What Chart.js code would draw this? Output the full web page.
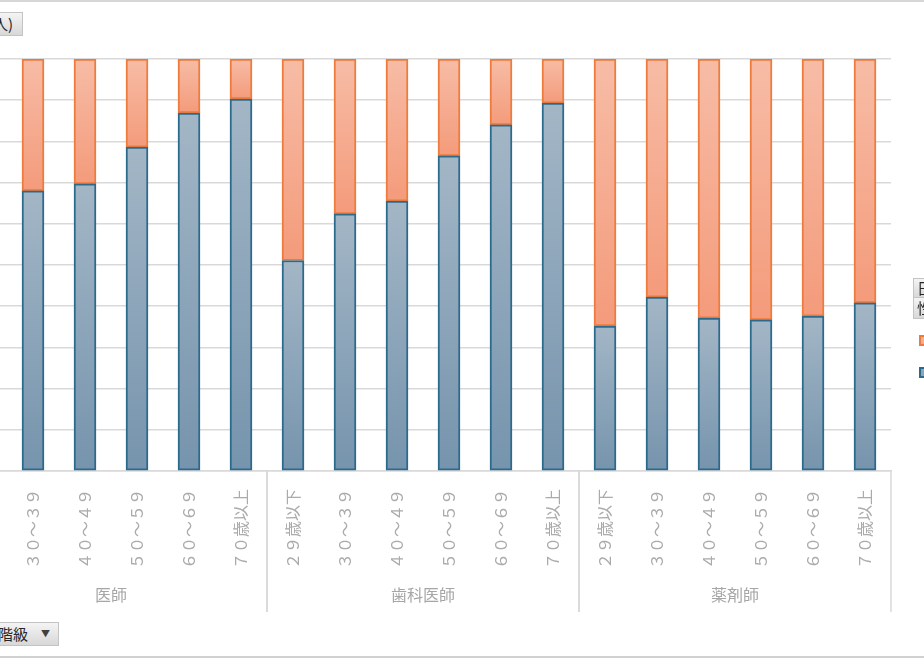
<!DOCTYPE html>
<html lang="ja">
<head>
<meta charset="utf-8">
<title>職種・年齢階級別 男女構成比</title>
<script src="https://cdn.jsdelivr.net/npm/chart.js@4.4.1/dist/chart.umd.min.js"></script>
<style>
  html, body { margin: 0; padding: 0; background: #fff; }
  body { width: 924px; height: 660px; overflow: hidden; position: relative;
         font-family: "Noto Sans CJK JP", "Noto Sans", sans-serif; }
  #wrap { position: absolute; left: -45px; top: 0; width: 969px; height: 660px; }
  .frame-top { position: absolute; left: 0; top: 0; width: 924px; height: 2px; background: #d6d6d6; }
  .frame-bottom { position: absolute; left: 0; top: 656px; width: 924px; height: 2px; background: #d0d0d0; }
  .fbtn { position: absolute; box-sizing: border-box; height: 24px; border: 1px solid #c4c4c4;
          background: linear-gradient(#f4f4f4, #d8d8d8); color: #262626; font-size: 15px;
          line-height: 22px; white-space: nowrap; text-align: right; }
  .legend-item { position: absolute; left: 919px; width: 40px; height: 10px; }
  .legend-item span { display: inline-block; width: 7px; height: 7px; border: 2px solid; vertical-align: top; }
</style>
</head>
<body>
<div class="frame-top"></div>
<div id="wrap"><canvas id="chart"></canvas></div>

<!-- ピボットのフィールドボタン（左右は画面外に切れている） -->
<div class="fbtn" style="left:-70px; top:12px; width:93px; padding-right:9px;">人数(人)</div>
<div class="fbtn" style="left:-70px; top:622px; width:129px; padding-right:30px;">年齢階級
  <span style="position:absolute; right:8px; top:0; font-size:9px; color:#404040;">▼</span></div>
<div class="fbtn" style="left:913px; top:278px; width:60px; text-align:left; padding-left:3px; height:20px; line-height:18px;">日</div>
<div class="fbtn" style="left:913px; top:297px; width:60px; text-align:left; padding-left:3px; height:22px; line-height:20px;">性別</div>
<div class="legend-item" id="lgF" style="top:335px;"><span></span></div>
<div class="legend-item" id="lgM" style="top:367px;"><span></span></div>
<div class="frame-bottom"></div>

<script>
// ── データ（構成比 %） ──
const groups   = ['医師', '歯科医師', '薬剤師'];
const ageBands = ['２９歳以下', '３０～３９', '４０～４９', '５０～５９', '６０～６９', '７０歳以上'];
const labels   = groups.flatMap(() => ageBands);

// 医師の29歳以下は画面外（左に切れている）
const maleShare   = [null, 68.0, 69.7, 78.6, 86.9, 90.3,
                     51.1, 62.4, 65.5, 76.5, 84.0, 89.3,
                     35.2, 42.2, 37.1, 36.7, 37.6, 40.8];
const femaleShare = [null, 32.0, 30.3, 21.4, 13.1,  9.7,
                     48.9, 37.6, 34.5, 23.5, 16.0, 10.7,
                     64.8, 57.8, 62.9, 63.3, 62.4, 59.2];

const yTicks = [0, 10, 20, 30, 40, 50, 60, 70, 80, 90, 100];

const BLUE_LINE = '#2c6a8c', ORANGE_LINE = '#ee7b3c';

document.querySelector('#lgF span').style.cssText += `background:#f5ad92;border-color:${ORANGE_LINE}`;
document.querySelector('#lgM span').style.cssText += `background:#8ca4b8;border-color:${BLUE_LINE}`;

/* ── 棒ごとのグラデーション ── */
function barGradient(ctx, isFemale, c1, c2) {
  const chart = ctx.chart, y = chart.scales.y;
  const i = ctx.dataIndex;
  if (!y || maleShare[i] == null) return c2;
  const base = isFemale ? maleShare[i] : 0;
  const top  = isFemale ? maleShare[i] + femaleShare[i] : maleShare[i];
  const y0 = y.getPixelForValue(top), y1 = y.getPixelForValue(base);
  if (!isFinite(y0) || !isFinite(y1) || y0 === y1) return c2;
  const g = chart.ctx.createLinearGradient(0, y0, 0, y1);
  g.addColorStop(0, c1);
  g.addColorStop(1, c2);
  return g;
}

/* ── 職種グループのラベルと区切り線 ── */
const groupLabelPlugin = {
  id: 'groupLabels',
  afterDraw(chart) {
    const x = chart.scales.x, ctx = chart.ctx;
    const bottom = chart.chartArea.bottom;
    const step = x.getPixelForValue(1) - x.getPixelForValue(0);
    ctx.save();
    ctx.strokeStyle = '#d9d9d9';
    ctx.lineWidth = 1.5;
    ctx.fillStyle = '#a6a6a6';
    ctx.font = '16px "Noto Sans CJK JP"';
    ctx.textAlign = 'center';
    ctx.textBaseline = 'middle';
    groups.forEach((name, g) => {
      const first = g * ageBands.length, last = first + ageBands.length - 1;
      const left  = x.getPixelForValue(first) - step / 2;
      const right = x.getPixelForValue(last) + step / 2;
      [left, right].forEach(px => {
        ctx.beginPath();
        ctx.moveTo(px, bottom);
        ctx.lineTo(px, bottom + 141);
        ctx.stroke();
      });
      ctx.fillText(name, (left + right) / 2, bottom + 124);
    });
    ctx.restore();
  }
};

new Chart(document.getElementById('chart'), {
  type: 'bar',
  data: {
    labels,
    datasets: [
      {
        label: '男',
        data: maleShare,
        backgroundColor: c => barGradient(c, false, '#a3b6c6', '#7694ad'),
        borderColor: BLUE_LINE,
        borderWidth: 2,
        borderSkipped: false,
        barThickness: 22,
      },
      {
        label: '女',
        data: femaleShare,
        backgroundColor: c => barGradient(c, true, '#f7bca6', '#f49b7b'),
        borderColor: ORANGE_LINE,
        borderWidth: 2,
        borderSkipped: false,
        barThickness: 22,
      },
    ],
  },
  options: {
    responsive: true,
    maintainAspectRatio: false,
    animation: false,
    layout: { padding: { left: 0, right: 33, top: 59, bottom: 48 } },
    plugins: { legend: { display: false }, tooltip: { enabled: false } },
    scales: {
      x: {
        stacked: true,
        grid: { display: false },
        border: { color: '#d9d9d9', width: 1.5 },
        ticks: {
          autoSkip: false,
          minRotation: 90,
          maxRotation: 90,
          padding: 10,
          color: '#ababab',
          font: { family: '"Noto Sans CJK JP"', size: 16 },
        },
        afterFit: s => { s.height = 141; s.paddingLeft = 0; s.paddingRight = 0; },
      },
      y: {
        stacked: true,
        min: yTicks[0],
        max: yTicks[yTicks.length - 1],
        afterBuildTicks: s => { s.ticks = yTicks.map(v => ({ value: v })); },
        ticks: { display: false },
        grid: { color: '#d9d9d9', lineWidth: 1.5, drawTicks: false },
        border: { display: false },
        afterFit: s => { s.width = 0; },
      },
    },
  },
  plugins: [groupLabelPlugin],
});
</script>
</body>
</html>
